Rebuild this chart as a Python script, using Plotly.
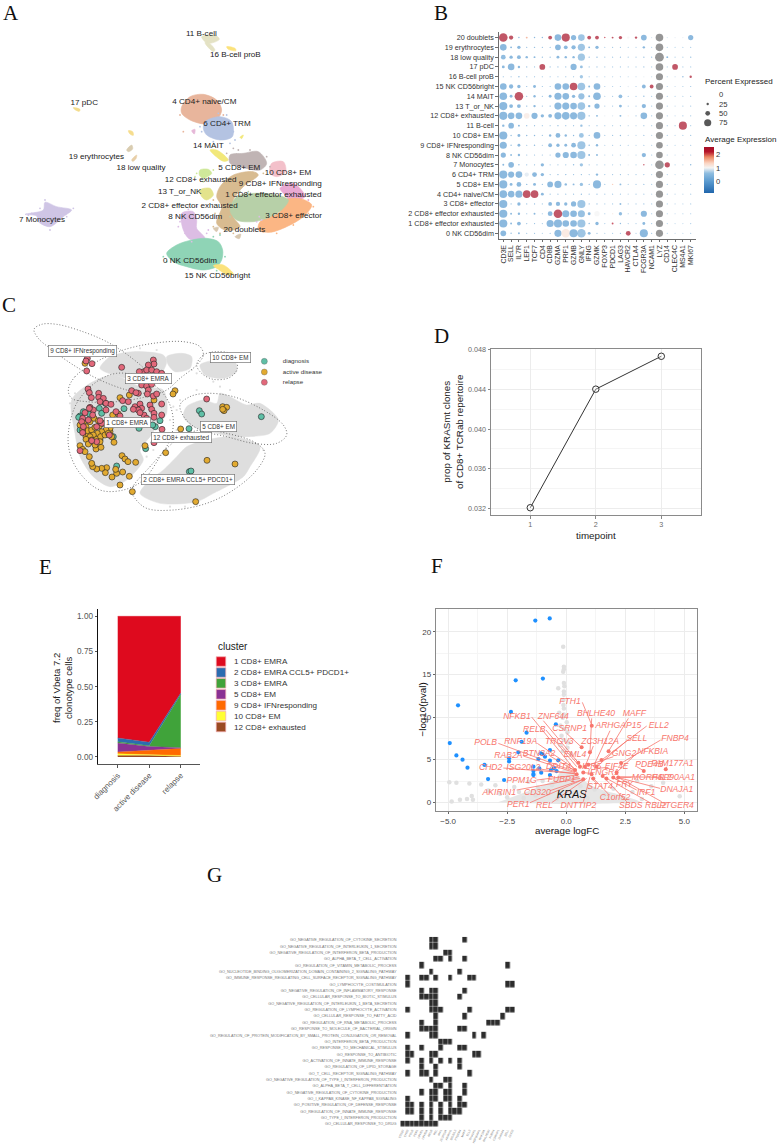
import plotly.graph_objects as go

W, H = 778, 1148
SANS = "Liberation Sans"
SERIF = "Liberation Serif"

# ---------------- Panel A: UMAP cluster outlines
A_clusters = [
 ("7", "#cfc5e5", [75,130,135,170,215,190,150,115,110], [643,630,607,620,630,650,680,665,648]),
 ("11", "#e4e2c4", [605,620,650,658,630,615], [110,105,108,118,130,125]),
 ("11b", "#e4e2c4", [615,622,645,640], [128,125,150,155]),
 ("16", "#fbe27c", [680,705,708,685], [140,145,152,148]),
 ("17", "#f3dc8c", [220,240,238,225], [323,328,334,329]),
 ("19a", "#f6dd8e", [385,398,400,390], [392,395,406,402]),
 ("19b", "#d9ccb0", [380,395,398,385], [450,435,447,455]),
 ("18", "#e8cfa8", [395,410,408,398], [480,465,476,484]),
 ("4", "#e8b59c", [545,570,610,650,665,650,615,570,545], [320,290,283,300,330,360,372,360,340]),
 ("6", "#b4c3e2", [615,660,695,697,660,620,610], [365,350,365,410,420,405,385]),
 ("14", "#f2e87a", [630,650,685,670], [450,450,480,484]),
 ("m1", "#f2e87a", [720,730,725], [412,405,416]),
 ("m2", "#e6b8d8", [575,585,583], [392,388,402]),
 ("12", "#cfe89a", [600,625,635,610,598], [510,508,520,535,525]),
 ("13", "#e3e38c", [600,630,640,620,605], [570,565,585,600,590]),
 ("8", "#dcbde4", [545,580,590,590,615,570,550], [640,635,660,685,715,718,690]),
 ("10", "#f3c0ca", [815,850,857,830,810], [490,485,515,530,520]),
 ("5", "#c0b4b4", [690,730,775,800,780,720,690], [465,460,455,490,510,500,490]),
 ("9", "#e9a9d2", [840,880,915,870,855], [565,550,590,602,585]),
 ("3", "#fbb684", [855,905,935,910,860,810,775,780,840], [600,597,615,650,680,697,690,665,635]),
 ("2", "#d8bb90", [660,700,760,775,730,700,700,720,680,650,665,650], [560,525,515,525,560,600,650,680,692,670,620,590]),
 ("1", "#b7d0a8", [710,760,830,865,845,800,760,710,690], [590,580,585,600,630,655,665,660,630]),
 ("20", "#d8c8b0", [640,655,650], [685,682,695]),
 ("20b", "#d8c8b0", [705,722,718], [710,702,716]),
 ("0", "#8fd4b6", [500,530,575,620,655,668,665,650,610,560,520], [760,735,720,715,725,750,780,800,810,800,785]),
 ("15", "#fbe27c", [640,670,700,680,655], [797,795,822,824,808]),
]
A_stray = [
 ("#dcbde4", [530,540,555,575,600,620,625,535,565,590,778,785,770], [650,665,700,725,710,700,690,680,628,620,650,660,665]),
 ("#b4c3e2", [600,605,700,705,690,640,655,680], [380,395,395,420,430,425,340,345]),
 ("#c0b4b4", [700,715,680,800,810,750], [445,450,460,470,500,450]),
 ("#d8bb90", [640,645,640,660,700,790], [600,640,680,700,700,520]),
 ("#8fd4b6", [490,500,675,640,660,650], [770,785,770,710,705,812]),
 ("#e8b59c", [550,540,670], [395,345,345]),
 ("#cfe89a", [590,640,610,585], [520,510,545,530]),
 ("#cfc5e5", [95,85,120,200,175,150,135,220], [640,645,625,650,660,690,600,625]),
 ("#e9a9d2", [835,850,925], [545,555,600]),
 ("#fbb684", [940,925,880,830,790], [620,640,675,700,695]),
 ("#b7d0a8", [720,745,690,690], [575,575,610,650]),
]
A_label_text = ["11 B-cell","16 B-cell proB","17 pDC","4 CD4+ naive/CM","6 CD4+ TRM","14 MAIT","19 erythrocytes",
  "18 low quality","5 CD8+ EM","10 CD8+ EM","12 CD8+ exhausted","9 CD8+ IFNresponding","13 T_or_NK",
  "1 CD8+ effector exhausted","2 CD8+ effector exhausted","3 CD8+ effector","8 NK CD56dim","7 Monocytes",
  "20 doublets","0 NK CD56dim","15 NK CD56bright"]
A_label_x = [604,706,253,613,681,625,289,423,718,864,602,841,539,820,569,881,586,126,733,570,652]
A_label_y = [103,165,310,307,371,437,471,504,504,518,541,552,575,586,618,648,652,660,691,783,829]

# ---------------- Panel B: dot plot
B_genes = ["CD3E","SELL","IL7R","LEF1","TCF7","CD4","CD8B","GZMA","PRF1","GZMB","GNLY","IFNG","GZMK","FOXP3",
           "PDCD1","LAG3","HAVCR2","CTLA4","FCGR3A","NCAM1","LYZ","CD14","CLEC4C","MS4A1","MKI67"]
B_rows = ["20 doublets","19 erythrocytes","18 low quality","17 pDC","16 B-cell proB","15 NK CD56bright","14 MAIT",
          "13 T_or_NK","12 CD8+ exhausted","11 B-cell","10 CD8+ EM","9 CD8+ IFNresponding","8 NK CD56dim",
          "7 Monocytes","6 CD4+ TRM","5 CD8+ EM","4 CD4+ naive/CM","3 CD8+ effector",
          "2 CD8+ effector exhausted","1 CD8+ effector exhausted","0 NK CD56dim"]
B_pct = [
 [90,45,15,20,15,15,40,70,85,55,70,40,40,15,20,35,25,25,60,5,80,2,10,10,55],
 [70,20,35,8,15,10,8,60,40,45,75,20,35,3,8,5,3,2,25,3,80,3,3,3,8],
 [50,35,40,25,20,10,12,30,25,25,75,12,15,3,5,8,3,3,15,5,92,20,3,3,15],
 [30,70,25,5,3,60,5,10,5,65,30,3,5,3,3,3,2,2,5,2,80,3,60,3,3],
 [10,10,15,12,8,4,5,4,8,10,35,5,3,2,2,3,2,2,10,2,75,2,2,15,25],
 [70,45,35,10,30,8,5,70,70,80,80,20,70,3,3,3,15,3,40,40,75,3,2,3,8],
 [80,30,90,10,25,8,30,75,70,35,65,20,80,2,5,40,5,3,15,5,75,3,3,3,5],
 [85,40,40,15,25,8,15,75,75,70,80,25,55,3,8,30,3,5,45,5,75,3,2,3,5],
 [85,70,70,60,65,35,40,75,80,75,85,15,20,5,8,20,15,5,70,5,75,3,2,5,5],
 [25,60,20,10,8,3,3,15,8,10,25,3,5,2,2,3,2,2,5,2,75,3,3,85,3],
 [85,15,30,15,15,5,25,50,25,15,50,10,70,3,5,15,2,2,8,2,75,3,2,3,8],
 [75,15,30,8,15,5,40,35,30,50,85,15,25,3,8,10,3,2,10,3,70,3,3,3,8],
 [55,20,25,5,8,5,12,55,65,70,85,20,20,2,3,5,8,2,45,5,70,3,2,3,5],
 [20,60,15,5,5,35,3,10,8,15,35,5,5,2,2,3,8,2,15,2,90,55,3,3,15],
 [85,65,70,45,50,35,8,15,15,8,15,5,25,3,5,5,2,2,5,2,75,3,2,3,3],
 [85,30,50,15,30,8,60,75,25,20,35,12,85,3,15,20,2,2,8,2,75,3,2,3,3],
 [80,70,75,80,80,30,8,8,8,5,15,3,8,3,3,3,2,2,3,2,75,3,2,3,3],
 [85,10,35,5,10,3,40,45,35,55,85,8,10,2,3,20,2,2,8,2,75,2,2,2,3],
 [85,20,25,5,20,3,50,90,75,70,75,30,55,3,15,35,2,2,65,3,75,2,2,3,5],
 [85,20,40,5,10,3,75,85,70,70,85,15,35,3,20,15,2,2,30,3,75,2,2,2,5],
 [60,15,20,3,5,2,10,75,90,85,90,30,8,2,3,5,50,2,85,5,75,2,2,2,3],
]
N = None
B_exp = [
 [2.5,2.5,0,1.7,0,0,2.5,0,2.5,0,.3,2.5,2.5,2.2,2.5,2.5,1.0,2.5,0,.8,N,.8,.9,.9,0],
 [0,0,0,0,0,0,0,0,0,0,.3,0,0,.5,.2,.2,.6,.6,0,.6,N,.6,.6,.6,.3],
 [.1,0,0,0,0,0,0,0,0,0,.35,0,0,.5,.3,.2,.5,.5,.2,.2,N,0,.6,.6,.2],
 [0,0,0,0,.3,2.5,.2,.1,.1,0,.2,.3,.2,.5,.5,.4,.6,.6,.2,.6,N,.6,2.5,.5,.5],
 [.1,.1,0,0,.1,.3,.2,.3,.1,.1,.4,.2,.3,.6,.6,.5,.7,.7,.9,.7,N,.6,.7,0,2.5],
 [0,0,0,0,0,.2,.2,0,0,2.5,.3,0,0,.5,.5,.5,.9,.5,0,2.5,N,.5,.7,.5,.2],
 [0,0,2.5,0,0,.2,0,0,0,0,.2,0,0,.6,.3,.1,.4,.4,.2,.4,N,.4,.6,.6,.2],
 [0,0,0,0,0,.2,0,0,0,0,.3,0,0,.5,.3,0,.5,.4,0,.4,N,.5,.7,.5,.3],
 [0,0,0,1.15,0,0,0,0,0,0,.25,0,0,.9,.8,0,1.2,.2,0,.3,N,.5,.7,.3,.3],
 [0,0,0,0,.1,.4,.4,.1,.2,.2,.2,.4,.3,.6,.6,.5,.7,.7,.4,.6,N,.5,.5,2.5,.5],
 [0,.1,0,0,0,.3,0,0,0,0,.3,0,0,.5,.3,.2,.7,.7,.3,.7,N,.5,.7,.6,.3],
 [0,.1,0,.1,0,.3,0,0,0,0,.3,0,0,.5,.3,.2,.4,.6,.2,.5,N,.5,.6,.6,.2],
 [0,.1,0,.1,.1,.2,.1,0,0,0,.3,0,0,.6,.5,.3,.9,.6,0,.3,N,.5,.7,.7,.3],
 [0,0,0,.1,.1,0,.4,.2,.2,.1,.3,.3,.3,.6,.6,.5,.9,.6,2.3,.6,N,2.5,.6,.6,0],
 [0,0,0,.9,0,0,.1,0,0,.1,.1,.2,0,.3,.2,.1,.5,.3,.2,.6,N,.5,.7,.7,.5],
 [0,0,0,.1,0,.2,0,0,0,0,.2,0,0,.4,1.5,.1,.6,.5,.2,.6,N,.5,.7,.7,.5],
 [0,0,0,2.5,2.5,0,.2,.2,.2,.2,.2,.3,.1,.5,.4,.4,.7,.5,.5,.7,N,.5,.7,.7,.5],
 [0,.1,0,.1,.1,.4,0,0,0,0,.3,.1,.1,.6,.4,.1,.6,.5,.2,.6,N,.6,.7,.7,.5],
 [0,0,0,.2,0,.4,0,2.5,0,0,.2,0,1.0,.4,1.15,.1,.5,.5,0,.4,N,.6,.7,.6,.4],
 [0,0,0,.1,.1,.4,0,0,0,0,.3,0,0,.5,2.2,.1,.5,.5,0,.4,N,.6,.7,.7,.4],
 [0,.1,0,.3,.2,.6,.1,0,1.2,0,.3,0,.1,.6,.4,.2,2.5,.6,0,.3,N,.6,.7,.7,.5],
]
B_legend_pct = [0, 25, 50, 75]

# ---------------- Panel C
C_grey = [
 ([215,270,340,420,490,500,470,450,420,430,380,330,280,240,225],[330,280,255,290,300,370,410,440,480,510,570,590,560,500,430]),
 ([300,330,400,490,500,480,420,340],[235,200,185,195,215,255,270,255]),
 ([500,545,575,570,525,505],[200,190,200,235,245,225]),
 ([600,650,705,710,670,615],[225,210,215,245,265,255]),
 ([560,610,650,660,690,740,780,835,810,740,700,650,580,550],[350,330,340,310,320,345,340,390,430,440,440,430,410,380]),
 ([560,620,700,780,750,730,640,590,480,420,450,490,530],[470,450,440,470,530,560,610,635,640,610,570,540,500]),
]
C_stray_x = [500,520,510,530,540,530,520,590,620,690,660,640,590,400,440,460,225,210,575,590,730,755,790,450,510,555,345,420,470]
C_stray_y = [330,350,390,360,330,420,445,440,440,300,290,275,300,590,500,480,310,340,240,250,555,500,480,610,650,650,200,175,180]
C_ellipses = [
 ([102,125,170,240,320,390,440,455,430,380,300,220,150,115,102],[118,103,103,122,155,200,245,280,310,300,270,225,175,145,118]),
 ([205,225,290,370,460,550,600,610,590,540,500,440,350,260,215,205],[300,260,215,180,160,155,170,195,225,265,300,320,335,335,325,300]),
 ([590,610,650,700,712,690,640,605,590],[225,195,185,195,235,262,268,250,225]),
 ([540,570,620,700,790,850,860,830,760,680,600,555,540],[345,320,310,320,360,405,435,460,460,440,420,385,345]),
 ([205,230,290,350,420,480,510,520,510,480,430,370,300,240,210,205],[430,340,275,250,260,300,345,400,450,500,570,600,600,550,490,430]),
 ([395,450,530,600,680,770,795,770,700,620,520,440,405,395],[600,530,450,420,430,460,490,540,600,640,660,655,625,600]),
]
C_box_text = ["9 CD8+ IFNresponding","3 CD8+ EMRA","10 CD8+ EM","1 CD8+ EMRA","5 CD8+ EM","12 CD8+ exhausted","2 CD8+ EMRA CCL5+ PDCD1+"]
C_box_x = [247,444,690,381,655,543,563]
C_box_y = [182,266,203,397,409,443,569]
C_diag = [(372,356),(598,362),(605,372),(784,380),(567,416),(466,410),(458,405),(480,392),(417,415),(437,476),(568,545),(573,543),
 (350,528),(240,378),(250,365),(236,382),(240,420),(310,335),(298,355),(268,372),(316,340),(305,370),(340,440),(300,450)]
C_active = [(255,220),(525,302),(519,312),(360,323),(388,315),(462,330),(668,350),(680,352),(672,362),(668,358),(542,417),(435,467),
 (497,488),(621,511),(705,522),(587,635),(397,605),(360,585),(388,559),(336,561),(350,550),(368,546),(347,538),(320,533),(316,548),
 (305,535),(290,537),(278,530),(275,520),(268,500),(366,497),(375,507),(384,515),(407,517),(342,457),(335,440),(330,425),(338,375),
 (355,372),(240,467),(248,478),(255,485),(288,477),(303,472),(270,455),(258,440),(265,432),(280,455),(250,398),(258,410),(270,395),
 (282,385),(295,392),(262,422),(275,420),(285,412),(298,408),(310,400),(322,405),(330,415),(318,420),(305,425),(292,430),(280,435),
 (270,440),(258,448),(275,450),(290,448),(302,440),(315,435),(325,430),(285,465),(300,455),(265,462),(240,405),(248,420)]
C_relapse = [(262,205),(258,213),(276,221),(260,243),(365,232),(460,210),(462,222),(445,225),(432,245),(418,245),(440,240),(455,240),
 (470,245),(485,250),(420,270),(425,285),(440,288),(455,283),(445,300),(442,312),(460,318),(470,312),(415,310),(395,302),(408,308),
 (368,332),(385,335),(264,297),(268,308),(274,323),(296,310),(296,322),(310,325),(300,335),(318,340),(333,343),(318,360),(348,365),
 (360,378),(270,352),(280,360),(255,368),(405,350),(420,342),(425,355),(415,360),(400,358),(450,345),(455,358),(485,342),(462,370),
 (462,382),(485,375),(432,375),(420,368),(440,385),(462,458),(486,418),(620,327),(248,385),(245,395),(250,410),(248,428),(265,390),
 (278,375),(268,355),(290,410),(305,400),(240,482),(328,435),(290,455),(275,452),(300,392)]
C_legend = [("diagnosis","#5fbfa6",214),("active disease","#e2aa30",246),("relapse","#e2687a",277)]

# ---------------- Panel D
D_time = [1, 2, 3]
D_prop = [0.0321, 0.0440, 0.0473]

# ---------------- Panel E (stack order bottom to top)
E_groups = ["diagnosis", "active disease", "relapse"]
E_series = [
 ("12 CD8+ exhausted", "#9a4a22", [.010,.010,.004]),
 ("10 CD8+ EM", "#ffff33", [.012,.005,.006]),
 ("9 CD8+ IFNresponding", "#ff6a00", [.013,.030,.050]),
 ("5 CD8+ EM", "#8a3194", [.065,.030,.005]),
 ("3 CD8+ EMRA", "#40a33a", [.008,.005,.380]),
 ("2 CD8+ EMRA CCL5+ PDCD1+", "#2b6cb0", [.027,.025,.010]),
 ("1 CD8+ EMRA", "#de0a1e", [.865,.895,.545]),
]

# ---------------- Panel F
F_blue_x = [-1.31,-.70,-2.14,-.99,-4.58,-2.34,-.44,-1.68,-1.89,-4.93,-.69,-4.65,-2.03,-4.39,-2.42,-2.42,-4.18,-3.46,-3.31,-2.63,-1.39,-1.39,-1.39,-1.06,-1.18,-1.08,-1.0,-.9,-.69,-1.14,-.65,-.52,-.41,-.34,-.69,-1.39]
F_blue_y = [21.3,21.56,14.3,14.5,11.37,10.6,9.14,8.16,7.1,6.95,6.13,5.5,5.86,5.0,5.16,4.8,4.06,4.38,2.73,2.62,4.18,3.67,3.2,3.48,5.08,5.74,5.66,5.35,4.88,3.98,3.79,4.02,3.67,4.92,3.2,3.32]
F_red_x = [.65,1.08,1.0,1.79,1.49,2.32,3.28,4.21,2.13,1.54,1.7,1.99,2.2,1.28,.93,.51,.37,.44,.72,1.07,1.14,.72,.58,.79]
F_red_y = [6.45,8.98,5.86,6.0,4.96,4.6,3.67,3.87,3.5,3.1,2.8,2.9,2.9,4.18,4.4,4.65,3.8,3.3,3.5,3.3,2.8,2.7,4.18,4.18]
F_grey_x = [-.1,-.1,-.13,-.13,-.34,-.1,-.08,-.1,-.1,-.12,-.12,-.1,-.3,-.1,-.15,.02,-.25,-.1,.05,-.2,-.1,.1,-.25,.05,-.15,.2,
 -4.95,-4.65,-4.1,-3.6,-4.5,-4.85,-4.2,-4.0,-3.95,-3.3,-3.0,-2.8,-2.5,-2.2,-2,-1.8,-1.6,-1.3,-1.2,-1,-.8,-.6,-.4,-.2,0,.3,.6,.9,1.2,1.6,2,2.4,2.8,3.2,3.6,4.1,4.8,3]
F_grey_y = [15.9,15.6,15.3,18.24,13.36,14,13.6,13,12.6,12,11.4,11,10.5,10.3,9.9,9.4,9,8.6,8.2,7.8,7.3,7,6.7,6.4,6,5.7,
 2.35,2.3,2.2,2.1,.3,.1,.4,.75,.3,1.4,2,1,.6,1.8,1.2,.5,2.4,.8,1.7,2.5,1,2,.4,1.4,2.6,1,1.9,.5,1.5,.9,1.6,.5,1.2,.4,1.9,2.3,.7,2.5]
F_mass_x = [-2.9,-1.5,-.55,-.12,.3,1.15,2.55,3.15,2.0,0,-1.5]
F_mass_y = [0,1.45,2.6,3.8,3.4,1.85,.65,0,-.1,-.2,-.1]
# gene label, centre of text, where the connector leaves the text, point it reaches
F_labels = [
 ("FTH1",450,395,487,397,516,467),("BHLHE40",528,432,515,445,510,547),("MAFF",643,431,625,445,566,543),
 ("ARHGAP15",595,469,570,482,520,590),("ELL2",716,469,680,468,545,570),("NFKB1",291,441,335,441,465,600),
 ("ZNF644",400,440,370,452,475,578),("RELB",343,479,378,480,470,590),("CSRNP1",449,478,440,490,485,532),
 ("SELL",650,506,620,512,530,590),("FNBP4",765,506,722,510,604,579),("POLB",197,518,235,520,465,605),
 ("RNF19A",302,516,352,520,470,600),("TRGV3",418,516,425,528,480,590),("ZC3H12A",540,515,520,528,495,590),
 ("GNG2",612,551,580,560,505,585),("NFKBIA",698,544,650,550,590,607),("RAB2A",265,556,310,558,465,608),
 ("BTN3A2",357,552,390,558,470,605),("EML4",465,553,465,566,485,590),("PDE4B",688,585,650,590,672,603),
 ("FAM177A1",757,580,740,590,738,598),("CHD2",212,593,250,594,465,610),("ISG20L2",310,594,352,596,470,612),
 ("DDIT4",415,590,450,595,470,600),("IER5",515,590,500,592,495,592),("EIF4E",590,590,565,592,530,595),
 ("IFNGR1",550,608,515,610,490,608),("MORF4L2",695,622,635,622,596,623),("HSP90AA1",760,622,725,622,600,620),
 ("PPM1G",305,631,350,630,470,615),("FUBP1",425,628,455,626,478,620),("AKIRIN1",238,667,290,660,480,625),
 ("CD320",352,667,390,662,490,628),("STAT4",540,650,530,640,515,625),("FRY",613,645,600,635,580,623),
 ("IRF1",678,668,650,660,580,623),("DNAJA1",770,660,720,655,596,623),("C1orf52",585,684,565,672,520,625),
 ("SBDS",632,706,620,695,548,618),("RBL2",707,706,690,698,560,625),("PTGER4",770,706,725,695,596,623),
 ("PER1",295,704,330,698,490,628),("REL",373,706,395,698,500,625),("DNTTIP2",475,707,490,695,510,620),
]

# ---------------- Panel G
G_terms = ["GO_NEGATIVE_REGULATION_OF_CYTOKINE_SECRETION","GO_NEGATIVE_REGULATION_OF_INTERLEUKIN_1_SECRETION",
 "GO_NEGATIVE_REGULATION_OF_INTERFERON_BETA_PRODUCTION","GO_ALPHA_BETA_T_CELL_ACTIVATION","GO_REGULATION_OF_VITAMIN_METABOLIC_PROCESS",
 "GO_NUCLEOTIDE_BINDING_OLIGOMERIZATION_DOMAIN_CONTAINING_2_SIGNALING_PATHWAY","GO_IMMUNE_RESPONSE_REGULATING_CELL_SURFACE_RECEPTOR_SIGNALING_PATHWAY",
 "GO_LYMPHOCYTE_COSTIMULATION","GO_NEGATIVE_REGULATION_OF_INFLAMMATORY_RESPONSE","GO_CELLULAR_RESPONSE_TO_BIOTIC_STIMULUS",
 "GO_NEGATIVE_REGULATION_OF_INTERLEUKIN_1_BETA_SECRETION","GO_REGULATION_OF_LYMPHOCYTE_ACTIVATION","GO_CELLULAR_RESPONSE_TO_FATTY_ACID",
 "GO_REGULATION_OF_RNA_METABOLIC_PROCESS","GO_RESPONSE_TO_MOLECULE_OF_BACTERIAL_ORIGIN",
 "GO_REGULATION_OF_PROTEIN_MODIFICATION_BY_SMALL_PROTEIN_CONJUGATION_OR_REMOVAL","GO_INTERFERON_BETA_PRODUCTION","GO_RESPONSE_TO_MECHANICAL_STIMULUS",
 "GO_RESPONSE_TO_ANTIBIOTIC","GO_ACTIVATION_OF_INNATE_IMMUNE_RESPONSE","GO_REGULATION_OF_LIPID_STORAGE","GO_T_CELL_RECEPTOR_SIGNALING_PATHWAY",
 "GO_NEGATIVE_REGULATION_OF_TYPE_I_INTERFERON_PRODUCTION","GO_ALPHA_BETA_T_CELL_DIFFERENTIATION","GO_NEGATIVE_REGULATION_OF_CYTOKINE_PRODUCTION",
 "GO_I_KAPPAB_KINASE_NF_KAPPAB_SIGNALING","GO_POSITIVE_REGULATION_OF_DEFENSE_RESPONSE","GO_REGULATION_OF_INNATE_IMMUNE_RESPONSE",
 "GO_TYPE_I_INTERFERON_PRODUCTION","GO_CELLULAR_RESPONSE_TO_DRUG"]
G_genes = ["CD320","CHD2","POLB","PER1","NFKB1","NFKBIA","RELB","REL","IRF1","ZC3H12A","AKIRIN1","ISG20L2","PTGER4","MAFF",
           "ELL2","DNAJA1","HSP90AA1","RNF19A","BHLHE40","FNBP4","CSRNP1","ZNF644","SELL","GNG2"]
G_filled = [[6,7,13],[6,7],[9,10],[7,8,10,13],[4,22],[6,12],[1,4,5,7,10,14,15],[1,22,23],[4,6,7,13],[4,5,6,7,12],[6,7],
 [1,6,7,8,14,22,23],[7,13,21],[4,7,18,19,20],[4,5,6,7,12,13],[1,6,7,15,17],[8,9,10],[1,4,8,12,13],[1,2,6,7,15,16],
 [1,4,6,8,10,12],[4,7,12],[1,4,5,7,14],[6,9,10],[7,8,10,13],[4,6,7,9,10,13],[1,6,7,9,10,12],[1,2,4,6,8,10,12,13],
 [1,2,4,6,8,10,11,12],[4,6,8,9,10],[0,1,2,3,4,5,6,7]]

# ================================================================= build
layout = dict(width=W, height=H, margin=dict(l=0, r=0, t=0, b=0, autoexpand=False), paper_bgcolor="white", plot_bgcolor="rgba(0,0,0,0)",
              showlegend=False, font=dict(family=SANS, color="#333333"), annotations=[])
fig = go.Figure()

def sfx(n):
    return "" if n == 1 else str(n)

def axes(n, x0, x1, y0, y1, xr, yr, xkw=None, ykw=None):
    base = dict(showgrid=False, zeroline=False, showline=False, ticks="", showticklabels=False)
    xa = dict(base, domain=[x0/W, x1/W], range=xr, anchor=f"y{sfx(n)}"); xa.update(xkw or {})
    ya = dict(base, domain=[1-y1/H, 1-y0/H], range=yr, anchor=f"x{sfx(n)}"); ya.update(ykw or {})
    layout[f"xaxis{sfx(n)}"] = xa
    layout[f"yaxis{sfx(n)}"] = ya

def ax(n):
    return dict(xaxis=f"x{sfx(n)}", yaxis=f"y{sfx(n)}")

def note(x, y, text, size, color="#333333", anchor="left", angle=0, family=SANS):
    layout["annotations"].append(dict(x=x/W, y=1-y/H, xref="paper", yref="paper", text=text, showarrow=False,
        xanchor=anchor, yanchor="middle", textangle=angle, align="center",
        font=dict(size=size, color=color, family=family)))

# --- A
axes(1, 0, 400, 0, 290, [0, 1200], [870, 0])
for _, col, xs, ys in A_clusters:
    fig.add_trace(go.Scatter(x=xs + xs[:1], y=ys + ys[:1], mode="lines", fill="toself", fillcolor=col,
        line=dict(shape="spline", smoothing=0.9, width=0.6, color=col), hoverinfo="skip", **ax(1)))
for col, xs, ys in A_stray:
    fig.add_trace(go.Scatter(x=xs, y=ys, mode="markers", marker=dict(size=1.8, color=col), hoverinfo="skip", **ax(1)))
fig.add_trace(go.Scatter(x=A_label_x, y=A_label_y, text=A_label_text, mode="text",
    textfont=dict(size=8.1, color="#222222"), cliponaxis=False, **ax(1)))

# --- B
xtick = dict(showline=True, linecolor="#6e6e6e", linewidth=1.3, ticks="outside", ticklen=2.5, tickcolor="#6e6e6e",
             showticklabels=True, tickangle=-90, tickfont=dict(size=6.9, color="#333333"),
             type="category", categoryorder="array", categoryarray=B_genes, tickmode="array", tickvals=B_genes, ticktext=B_genes)
ytick = dict(showline=True, linecolor="#6e6e6e", linewidth=1.3, ticks="outside", ticklen=2.5, tickcolor="#6e6e6e",
             showticklabels=True, tickfont=dict(size=7.2, color="#333333"),
             type="category", categoryorder="array", categoryarray=B_rows[::-1], tickmode="array", tickvals=B_rows, ticktext=B_rows)
axes(2, 499, 696, 32, 238.7, [-0.55, 24.68], [-0.55, 20.57], xtick, ytick)
SZ = 10.5
bx, by, bs, bc, gx, gy, gs = [], [], [], [], [], [], []
for r, row in enumerate(B_rows):
    for c, g in enumerate(B_genes):
        if B_exp[r][c] is None:
            gx.append(g); gy.append(row); gs.append(B_pct[r][c])
        else:
            bx.append(g); by.append(row); bs.append(B_pct[r][c]); bc.append(B_exp[r][c])
cmin, cmax = -0.87, 2.55
def st(v):
    return (v - cmin) / (cmax - cmin)
cscale = [[0, "#2166ac"], [st(0), "#5b9bd0"], [st(0.6), "#8fbde0"], [st(1), "#f4f4f4"], [st(1.35), "#fbd5c2"],
          [st(1.8), "#ec8a66"], [st(2.2), "#b5152b"], [1, "#a50f26"]]
fig.add_trace(go.Scatter(x=bx, y=by, mode="markers", marker=dict(size=bs, sizemode="diameter", sizeref=SZ, sizemin=0.6,
    color=bc, cmin=cmin, cmax=cmax, colorscale=cscale, line=dict(width=0),
    colorbar=dict(x=704/W, xanchor="left", xpad=0, y=1-147/H, yanchor="top", ypad=0, len=45.7, lenmode="pixels",
                  thickness=10, thicknessmode="pixels", outlinewidth=0, tickvals=[0, 1, 2], ticks="",
                  tickfont=dict(size=7.6, color="#333333"))), **ax(2)))
fig.add_trace(go.Scatter(x=gx, y=gy, mode="markers", marker=dict(size=gs, sizemode="diameter", sizeref=SZ, color="#6a6a6a", line=dict(width=0)), **ax(2)))

# --- C
axes(3, 0, 340, 290, 530, [0, 1020], [720, 0])
for xs, ys in C_grey:
    fig.add_trace(go.Scatter(x=xs + xs[:1], y=ys + ys[:1], mode="lines", fill="toself", fillcolor="#dedede",
        line=dict(shape="spline", smoothing=0.8, width=0.5, color="#dedede"), hoverinfo="skip", **ax(3)))
fig.add_trace(go.Scatter(x=C_stray_x, y=C_stray_y, mode="markers", marker=dict(size=2.2, color="#dedede"), hoverinfo="skip", **ax(3)))
for xs, ys in C_ellipses:
    fig.add_trace(go.Scatter(x=xs, y=ys, mode="lines", line=dict(shape="spline", smoothing=1, width=0.8, color="#555555", dash="1px,2px"),
        hoverinfo="skip", **ax(3)))
for pts, col in [(C_diag, "#5fbfa6"), (C_active, "#e2aa30"), (C_relapse, "#e2687a")]:
    fig.add_trace(go.Scatter(x=[p[0] for p in pts], y=[p[1] for p in pts], mode="markers",
        marker=dict(size=6, color=col, line=dict(width=0.6, color="#222222")), **ax(3)))
fig.add_trace(go.Scatter(x=[793]*3, y=[c[2] for c in C_legend], mode="markers+text", text=[f"        {c[0]}" for c in C_legend],
    textposition="middle right", textfont=dict(size=6.2, color="#333333"),
    marker=dict(size=6, color=[c[1] for c in C_legend], line=dict(width=0.4, color="#666666")), cliponaxis=False, **ax(3)))
for t, x, y in zip(C_box_text, C_box_x, C_box_y):
    layout["annotations"].append(dict(x=x, y=y, xref="x3", yref="y3", text=t, showarrow=False, bgcolor="white",
        bordercolor="#777777", borderwidth=0.7, borderpad=1.5, font=dict(size=6.3, color="#333333")))

# --- D
grid = dict(showgrid=True, gridcolor="#ececec", gridwidth=0.8, showline=True, linecolor="#8a8a8a", linewidth=1, mirror=True,
            ticks="outside", ticklen=2.5, tickcolor="#888888", showticklabels=True, tickfont=dict(size=7.2, color="#6a6a6a"))
axes(4, 491, 700.6, 349.3, 515.3, [0.4, 3.6], [0.03134, 0.048],
     dict(grid, tickvals=D_time),
     dict(grid, tickvals=[0.032, 0.036, 0.040, 0.044, 0.048], tickformat=".3f",
          minor=dict(tickvals=[0.034, 0.038, 0.042, 0.046], showgrid=True, gridcolor="#f5f5f5", ticks="")))
fig.add_trace(go.Scatter(x=D_time, y=D_prop, mode="lines+markers", line=dict(color="#333333", width=1),
    marker=dict(symbol="circle", size=6.5, color="rgba(255,255,255,0.3)", line=dict(width=1, color="#333333")), cliponaxis=False, **ax(4)))
note(596, 535, "timepoint", 9.8, "#222222", "center")
note(453, 432, "prop of KRASmt clones<br>of CD8+ TCRab repertoire", 9.8, "#222222", "center", -90)

# --- E
axes(5, 98.3, 200, 609, 764, [-0.616, 2.61], [-0.05, 1.052],
     dict(showline=True, linecolor="#555555", linewidth=1.3, ticks="outside", ticklen=2.5, tickcolor="#555555", showticklabels=True,
          tickangle=-45, tickfont=dict(size=8, color="#555555"), type="category", categoryorder="array", categoryarray=E_groups),
     dict(showline=True, linecolor="#111111", linewidth=1.3, ticks="outside", ticklen=2.5, tickcolor="#555555", showticklabels=True,
          tickvals=[0, .25, .5, .75, 1], tickformat=".2f", tickfont=dict(size=8.2, color="#555555")))
for name, col, vals in E_series:
    fig.add_trace(go.Scatter(x=E_groups, y=vals, mode="lines", stackgroup="e", line=dict(width=0.4, color=col), fillcolor=col, name=name, **ax(5)))
note(62, 688, "freq of Vbeta 7.2<br>clonotype cells", 9.5, "#222222", "center", -90)
note(215.5, 646.5, "cluster", 10, "#222222")

# --- overlay for legends
axes(8, 0, W, 0, H, [0, W], [H, 0])
ekeys = E_series[::-1]
ey = [661.5, 672.5, 683.3, 694.3, 705.3, 716, 727]
fig.add_trace(go.Scatter(x=[221]*7, y=ey, mode="markers", marker=dict(symbol="square", size=9.5, color=[e[1] for e in ekeys],
    line=dict(width=0.7, color="#f2a9ae")), **ax(8)))
for e, y in zip(ekeys, ey):
    note(231.5, y, e[0], 8.1, "#333333")
note(702.5, 82, "Percent Expressed", 8, "#222222")
note(702.5, 139.5, "Average Expression", 8, "#222222")
fig.add_trace(go.Scatter(x=[707.7]*4, y=[94.7, 104, 113.3, 122.7], mode="markers",
    marker=dict(size=B_legend_pct, sizemode="diameter", sizeref=SZ, sizemin=0.6, color="#111111", line=dict(width=0)), **ax(8)))
for p, y in zip(B_legend_pct, [94.7, 104, 113.3, 122.7]):
    note(716.5, y, str(p), 7.6, "#333333")

# --- F
fgrid = dict(showgrid=True, gridcolor="#ececec", gridwidth=0.8, showline=True, linecolor="#8a8a8a", linewidth=1.2, mirror=True,
             ticks="outside", ticklen=2.5, tickcolor="#666666", showticklabels=True, tickfont=dict(size=8, color="#444444"))
axes(6, 436.3, 696.7, 609, 810.7, [-5.5, 5.52], [-0.98, 22.66],
     dict(fgrid, tickvals=[-5, -2.5, 0, 2.5, 5], tickformat=".1f", minor=dict(tickvals=[-3.75, -1.25, 1.25, 3.75], showgrid=True, gridcolor="#f5f5f5", ticks="")),
     dict(fgrid, tickvals=[0, 5, 10, 15, 20], minor=dict(tickvals=[2.5, 7.5, 12.5, 17.5], showgrid=True, gridcolor="#f5f5f5", ticks="")))
fig.add_trace(go.Scatter(x=F_mass_x, y=F_mass_y, mode="lines", fill="toself", fillcolor="#e6e6e6", line=dict(shape="spline", width=0, color="#e6e6e6"), hoverinfo="skip", **ax(6)))
fig.add_trace(go.Scatter(x=F_grey_x, y=F_grey_y, mode="markers", marker=dict(size=4.5, color="#e0e0e0"), **ax(6)))
fig.add_trace(go.Scatter(x=F_blue_x, y=F_blue_y, mode="markers", marker=dict(size=4.2, color="#1e90ff"), **ax(6)))
fig.add_trace(go.Scatter(x=F_red_x, y=F_red_y, mode="markers", marker=dict(size=4, color="#f8766d"), **ax(6)))
note(566.7, 830, "average logFC", 9.8, "#111111", "center")
note(421.5, 710, "\u2212log10(pval)", 9.8, "#111111", "center", -90)
axes(9, 436.3, 696.7, 609, 810.7, [49, 830], [722, 117])
segx, segy = [], []
for _, cx, cy, sx, sy, tx, ty in F_labels:
    segx += [sx, tx, None]; segy += [sy, ty, None]
fig.add_trace(go.Scatter(x=segx, y=segy, mode="lines", line=dict(color="#f8766d", width=0.8), hoverinfo="skip", cliponaxis=False, **ax(9)))
fig.add_trace(go.Scatter(x=[l[1] for l in F_labels], y=[l[2] for l in F_labels], text=[f"<i>{l[0]}</i>" for l in F_labels], mode="text",
    textfont=dict(size=8.6, color="#f8766d"), cliponaxis=False, **ax(9)))
fig.add_trace(go.Scatter(x=[455], y=[675], text=["<i>KRAS</i>"], mode="text", textfont=dict(size=11, color="#111111"), **ax(9)))

# --- G
G_z = [[1 if c in row else None for c in range(len(G_genes))] for row in G_filled]
axes(7, 400.3, 514.8, 936.8, 1127.2, [-0.5, 23.5], [29.5, -0.5],
     dict(showticklabels=True, tickangle=-65, tickfont=dict(size=2.9, color="#777777"), type="category", categoryorder="array", categoryarray=G_genes),
     dict(showticklabels=True, tickfont=dict(size=3.8, color="#777777"), type="category", categoryorder="array", categoryarray=G_terms, ticklen=2, ticks="outside", tickcolor="white"))
fig.add_trace(go.Heatmap(x=G_genes, y=G_terms, z=G_z, colorscale=[[0, "#2d2d2d"], [1, "#2d2d2d"]], showscale=False, xgap=0.4, ygap=0.4,
    zmin=0, zmax=1, hoverongaps=False, **ax(7)))

# --- panel letters
for t, x, y in [("A", 1, 13), ("B", 432, 13), ("C", 0, 305), ("D", 432, 336), ("E", 37, 567), ("F", 429, 566), ("G", 205.5, 875)]:
    note(x, y, t, 21, "#111111", "left", 0, SERIF)

fig.update_layout(**layout)
fig.write_html("out.html", config=dict(displayModeBar=False), post_script="document.body.style.margin='0';")
